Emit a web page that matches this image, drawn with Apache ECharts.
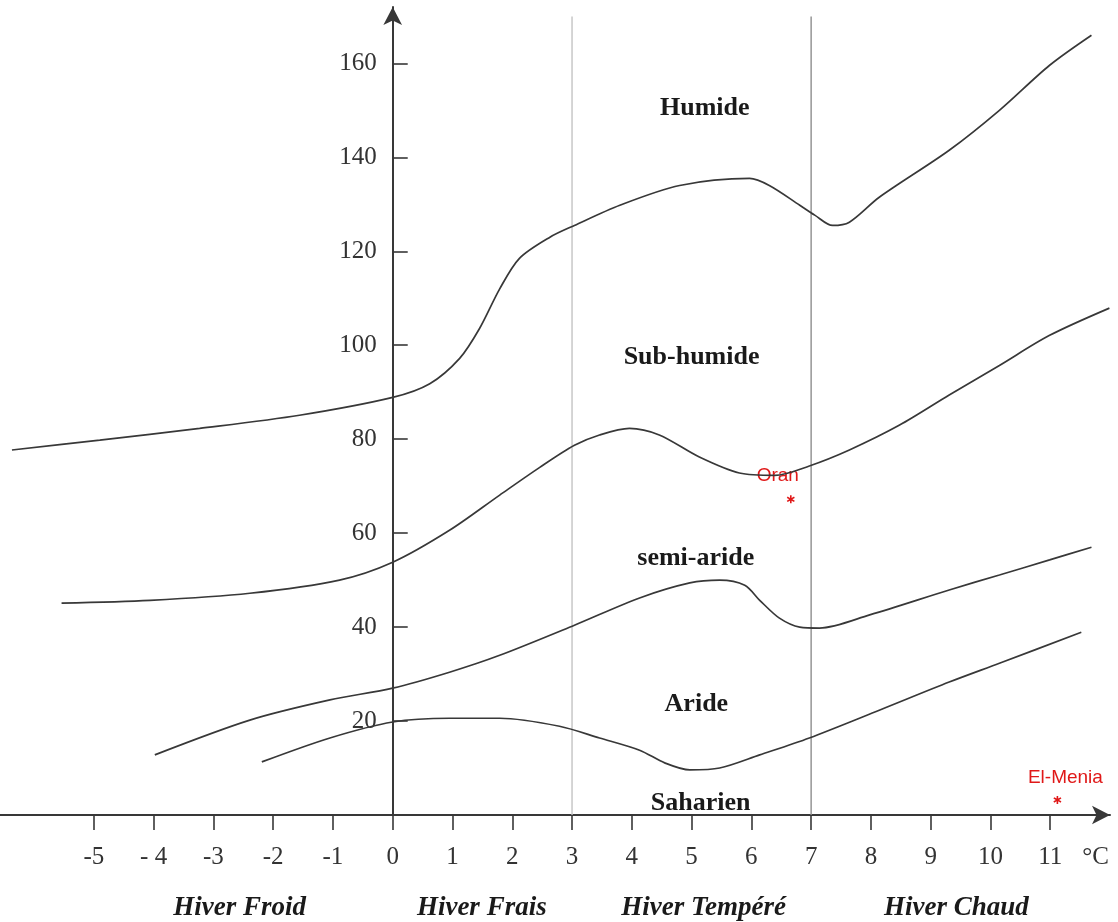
<!DOCTYPE html>
<html>
<head>
<meta charset="utf-8">
<script src="https://cdn.jsdelivr.net/npm/echarts@6/dist/echarts.min.js"></script>
<style>
  html, body { margin: 0; padding: 0; background: #fff; }
  #chart { width: 1118px; height: 922px; }
</style>
</head>
<body>
<div id="chart"></div>
<script>
// limites des étages bioclimatiques (x = m en °C, y = Q2)
const humideLimit = [
  [-6.37, 77.7], [-4.9, 79.8], [-3.23, 82.3], [-1.56, 85.1], [0, 88.9], [0.62, 91.8],
  [1.12, 97.2], [1.45, 103.5], [1.79, 112], [2.12, 118.5], [2.63, 123], [3.04, 125.5],
  [3.8, 129.8], [4.8, 134], [5.97, 135.5], [6.3, 134], [6.81, 129.8], [7.06, 127.7],
  [7.36, 125.5], [7.64, 126.2], [8.14, 131.5], [9.31, 141.5], [10.15, 150], [10.99, 159.6],
  [11.69, 166]
]
const subHumideLimit = [
  [-5.54, 45.1], [-4.06, 45.7], [-2.39, 47.2], [-0.89, 50], [0, 53.8], [0.95, 60.6],
  [1.79, 68.1], [2.46, 74], [3.04, 78.7], [3.46, 80.9], [3.96, 82.3], [4.46, 80.9],
  [5.13, 76.2], [5.8, 72.8], [6.39, 72.3], [6.97, 74.3], [7.64, 77.7], [8.48, 83],
  [9.31, 89.4], [10.15, 95.7], [10.99, 102.1], [11.99, 107.9]
]
const semiArideLimit = [
  [-3.98, 12.8], [-2.39, 20.2], [-1.05, 24.5], [0, 27], [0.95, 30.4], [1.79, 34],
  [3.04, 40.4], [4.13, 46.2], [4.97, 49.4], [5.47, 50], [5.89, 48.9], [6.14, 45.7],
  [6.47, 41.9], [6.81, 40], [7.14, 39.8], [7.98, 42.6], [9.31, 47.9], [10.15, 51.1],
  [10.99, 54.3], [11.69, 57]
]
const arideLimit = [
  [-2.19, 11.3], [-1.05, 16.4], [0, 19.8], [0.95, 20.6], [1.79, 20.6], [2.79, 18.9],
  [3.46, 16.4], [4.13, 13.8], [4.55, 11.1], [4.97, 9.6], [5.47, 10], [6.14, 12.8],
  [6.97, 16.4], [8.14, 22.3], [9.31, 28.3], [10.15, 32.3], [11.52, 38.9]
]

// séparations des types d'hiver
const winterBounds = [3, 7]

// graduations
const xTicks = [-5, -4, -3, -2, -1, 0, 1, 2, 3, 4, 5, 6, 7, 8, 9, 10, 11]
const xTickLabels = ['-5', '- 4', '-3', '-2', '-1', '0', '1', '2', '3', '4', '5', '6', '7', '8', '9', '10', '11']
const yTicks = [20, 40, 60, 80, 100, 120, 140, 160]

// étages
const zoneNames = ['Humide', 'Sub-humide', 'semi-aride', 'Aride', 'Saharien']
const zoneX = [5.22, 5.0, 5.07, 5.08, 5.15]
const zoneY = [150.4, 97.4, 54.7, 23.6, 2.6]

// types d'hiver
const winterNames = ['Hiver Froid', 'Hiver Frais', 'Hiver Tempéré', 'Hiver Chaud']
const winterX = [-2.56, 1.49, 5.2, 9.43]

// stations
const stationNames = ['Oran', 'El-Menia']
const stationX = [6.66, 11.12]
const stationY = [67.2, 3.2]

const unitX = 11.76

const xMin = -6.57
const xMax = 12
const gridLeft = 0
const gridRight = 8
const chartWidth = 1118

const serif = 'Liberation Serif'
const ink = '#383838'

var myChart = echarts.init(document.getElementById('chart'))

// l'axe des ordonnées passe par x = 0
const gridWidth = chartWidth - gridLeft - gridRight
const yAxisOffset = -(0 - xMin) / (xMax - xMin) * gridWidth

function limitSeries(data) {
  return {
    type: 'line',
    data: data,
    smooth: 0.3,
    showSymbol: false,
    silent: true,
    lineStyle: { color: ink, width: 1.7 }
  }
}

let series = [
  limitSeries(humideLimit),
  limitSeries(subHumideLimit),
  limitSeries(semiArideLimit),
  limitSeries(arideLimit)
]

// lignes verticales
winterBounds.forEach((v, i) => {
  series.push({
    type: 'line',
    data: [[v, 0], [v, 170]],
    showSymbol: false,
    silent: true,
    z: 1,
    lineStyle: { color: i == 0 ? '#c4c4c4' : '#8e8e8e', width: 1.4 }
  })
})

// noms des étages
series.push({
  type: 'scatter',
  symbolSize: 0,
  silent: true,
  itemStyle: { opacity: 1 },
  data: zoneNames.map((n, i) => ({ name: n, value: [zoneX[i], zoneY[i]] })),
  label: {
    show: true,
    position: 'inside',
    formatter: '{b}',
    color: '#1a1a1a',
    fontFamily: serif,
    fontWeight: 'bold',
    fontSize: 26
  }
})

// stations
const stationOffsets = [[-13, -24], [8, -22]]
series.push({
  type: 'scatter',
  symbol: 'path://M4,0L6,0L6,3.3L9,1.6L10,3.3L7,5L10,6.7L9,8.4L6,6.7L6,10L4,10L4,6.7L1,8.4L0,6.7L3,5L0,3.3L1,1.6L4,3.3Z',
  symbolSize: 8,
  silent: true,
  clip: false,
  itemStyle: { color: '#e01818', opacity: 1 },
  data: stationNames.map((n, i) => ({
    name: n,
    value: [stationX[i], stationY[i]],
    label: { offset: stationOffsets[i] }
  })),
  label: {
    show: true,
    position: 'inside',
    formatter: '{b}',
    color: '#e01818',
    fontFamily: 'Liberation Sans',
    fontSize: 19
  }
})

let option = {
  backgroundColor: '#ffffff',
  animation: false,
  grid: { left: gridLeft, right: gridRight, top: 7, bottom: 107, containLabel: false, outerBoundsMode: 'none' },
  xAxis: [
    {
      type: 'value',
      min: xMin,
      max: xMax,
      axisLine: {
        show: true,
        onZero: false,
        symbol: ['none', 'arrow'],
        symbolSize: [14, 18],
        lineStyle: { color: ink, width: 2 }
      },
      axisTick: {
        show: true,
        length: 15,
        customValues: xTicks,
        lineStyle: { color: ink, width: 1.6 }
      },
      axisLabel: {
        customValues: xTicks.concat([unitX]),
        formatter: function (v) {
          if (v > 11.5) return '°C'
          let i = xTicks.indexOf(v)
          return i >= 0 ? xTickLabels[i] : ''
        },
        margin: 30,
        color: '#333',
        fontFamily: serif,
        fontSize: 25
      },
      splitLine: { show: false }
    },
    {
      type: 'value',
      position: 'bottom',
      min: xMin,
      max: xMax,
      axisLine: { show: false },
      axisTick: { show: false },
      splitLine: { show: false },
      axisLabel: {
        customValues: winterX,
        formatter: function (v) {
          let i = winterX.indexOf(v)
          return i >= 0 ? winterNames[i] : ''
        },
        margin: 80,
        color: '#1a1a1a',
        fontFamily: serif,
        fontStyle: 'italic',
        fontWeight: 'bold',
        fontSize: 27
      }
    }
  ],
  yAxis: {
    type: 'value',
    position: 'left',
    offset: yAxisOffset,
    min: 0,
    max: 172,
    interval: 20,
    axisLine: {
      show: true,
      onZero: false,
      symbol: ['none', 'arrow'],
      symbolSize: [14, 18],
      lineStyle: { color: ink, width: 2 }
    },
    axisTick: {
      show: true,
      inside: true,
      length: 15,
      customValues: yTicks,
      lineStyle: { color: ink, width: 1.6 }
    },
    axisLabel: {
      show: true,
      customValues: yTicks,
      margin: 16,
      color: '#333',
      fontFamily: serif,
      fontSize: 25
    },
    splitLine: { show: false }
  },
  series: series
}

myChart.setOption(option)
</script>
</body>
</html>
